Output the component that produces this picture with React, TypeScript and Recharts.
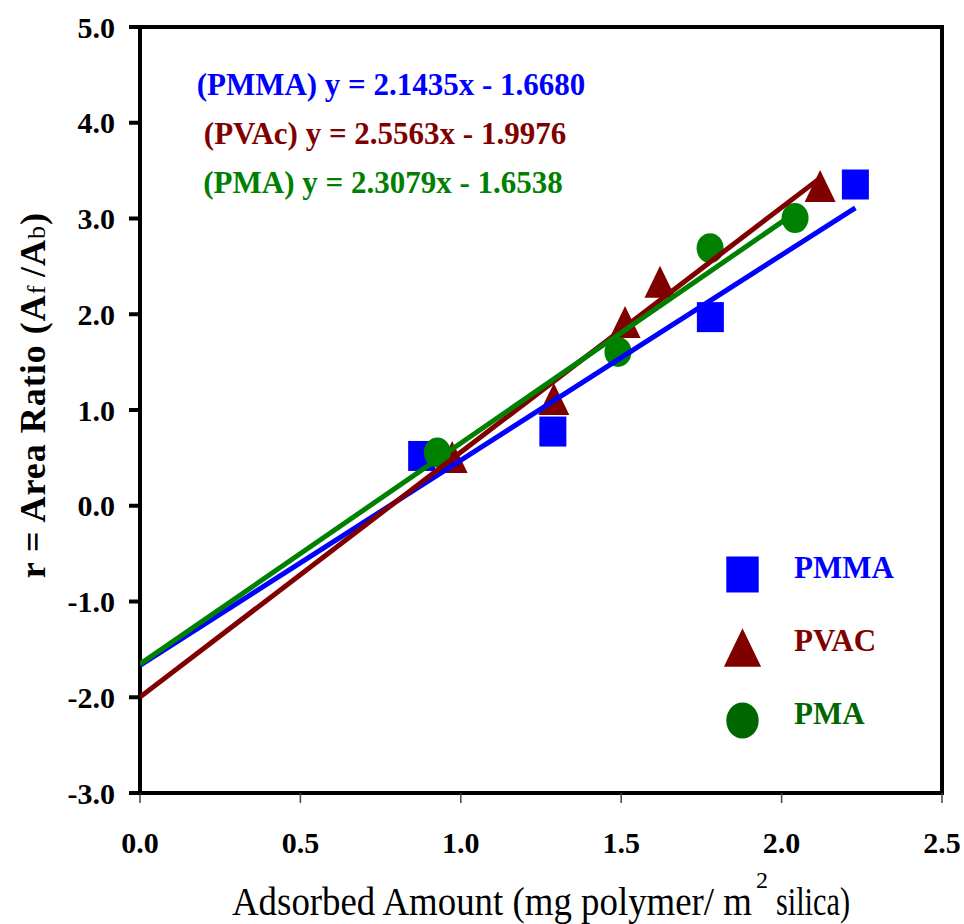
import {
  ComposedChart,
  XAxis,
  YAxis,
  Scatter,
  Line,
  Legend,
  ReferenceArea,
} from 'recharts'

const serif = '"Liberation Serif", "Times New Roman", serif'

const pmmaX = [0.878, 1.287, 1.778, 2.23]
const pmmaY = [0.52, 0.775, 1.97, 3.355]
const pvacX = [0.973, 1.29, 1.512, 1.621, 2.12]
const pvacY = [0.51, 1.115, 1.92, 2.34, 3.34]
const pmaX = [0.927, 1.49, 1.777, 2.042]
const pmaY = [0.556, 1.606, 2.69, 3.005]

// linear fits as printed on the chart
const seriesNames = ['PMMA', 'PVAc', 'PMA']
const legendNames = ['PMMA', 'PVAC', 'PMA']
const slopes = [2.1435, 2.5563, 2.3079]
const intercepts = [-1.668, -1.9976, -1.6538]
const equationText = [
  '(PMMA) y = 2.1435x - 1.6680',
  '(PVAc) y = 2.5563x - 1.9976',
  '(PMA) y = 2.3079x - 1.6538',
]

const xTicks = [0, 0.5, 1.0, 1.5, 2.0, 2.5]
const yTicks = [-3, -2, -1, 0, 1, 2, 3, 4, 5]

const colors = ['#0000ff', '#800000', '#008000']
const legendColors = ['#0000ff', '#800000', '#006600']
const shapes = ['square', 'triangle', 'circle']

const toPoints = (xs: number[], ys: number[]) => xs.map((x, i) => ({ x, y: ys[i] }))
const points = [toPoints(pmmaX, pmmaY), toPoints(pvacX, pvacY), toPoints(pmaX, pmaY)]

const fitLine = (i: number) => {
  const xEnd = Math.max(...points[i].map((p) => p.x))
  return [
    { x: 0, y: intercepts[i] },
    { x: xEnd, y: slopes[i] * xEnd + intercepts[i] },
  ]
}

function Marker({
  kind,
  cx,
  cy,
  fill,
  k = 1,
}: {
  kind: string
  cx: number
  cy: number
  fill: string
  k?: number
}) {
  const w = 13.5 * k
  const h = 15 * k
  if (kind === 'square') {
    return <rect x={cx - w} y={cy - h} width={2 * w} height={2 * h} fill={fill} />
  }
  if (kind === 'triangle') {
    const tw = 15.5 * k
    const th = 16 * k
    return (
      <polygon
        points={`${cx},${cy - th} ${cx + tw},${cy + th} ${cx - tw},${cy + th}`}
        fill={fill}
      />
    )
  }
  return <ellipse cx={cx} cy={cy} rx={w} ry={h} fill={fill} />
}

const shapeFor = (i: number) => (props: any) => (
  <Marker kind={shapes[i]} cx={props.cx} cy={props.cy} fill={colors[i]} />
)

function LegendBox() {
  return (
    <svg width={220} height={220}>
      {legendNames.map((name, i) => (
        <g key={name}>
          <Marker
            kind={shapes[i]}
            cx={42.5}
            cy={34.5 + i * 73}
            fill={legendColors[i]}
            k={1.2}
          />
          <text
            x={94}
            y={38 + i * 73}
            fill={legendColors[i]}
            fontFamily={serif}
            fontWeight="bold"
            fontSize={31}
          >
            {name}
          </text>
        </g>
      ))}
    </svg>
  )
}

const fmt = (v: number) => v.toFixed(1)

export default function App() {
  return (
    <div style={{ position: 'absolute', left: 0, top: 0, width: 964, height: 924, background: '#fff' }}>
      <ComposedChart
        width={964}
        height={924}
        margin={{ top: 27, right: 22, bottom: 0, left: 0 }}
      >
        <XAxis
          dataKey="x"
          type="number"
          domain={[0, 2.5]}
          ticks={xTicks}
          tickFormatter={fmt}
          height={131}
          axisLine={{ stroke: '#000', strokeWidth: 4 }}
          tickLine={{ stroke: '#444', strokeWidth: 1.5 }}
          tickSize={10}
          tickMargin={29}
          tick={{ fill: '#000', fontSize: 30, fontWeight: 'bold', fontFamily: serif }}
          allowDataOverflow
        />
        <YAxis
          type="number"
          domain={[-3, 5]}
          ticks={yTicks}
          tickFormatter={fmt}
          width={140}
          axisLine={{ stroke: '#000', strokeWidth: 4 }}
          tickLine={{ stroke: '#000', strokeWidth: 4 }}
          tickSize={11}
          tickMargin={14}
          tick={{ fill: '#000', fontSize: 30, fontWeight: 'bold', fontFamily: serif }}
          allowDataOverflow
        />
        <ReferenceArea
          x1={0}
          x2={2.5}
          y1={-3}
          y2={5}
          fill="none"
          stroke="#000"
          strokeWidth={4}
          fillOpacity={0}
        />
        {points.map((pts, i) => (
          <Scatter
            key={'s' + i}
            name={seriesNames[i]}
            data={pts}
            dataKey="y"
            fill={colors[i]}
            shape={shapeFor(i)}
            zIndex={500}
            isAnimationActive={false}
          />
        ))}
        {points.map((_, i) => (
          <Line
            key={'l' + i}
            name={seriesNames[i] + ' fit'}
            data={fitLine(i)}
            dataKey="y"
            type="linear"
            stroke={colors[i]}
            strokeWidth={5}
            dot={false}
            activeDot={false}
            legendType="none"
            zIndex={700}
            isAnimationActive={false}
          />
        ))}
        <Legend
          layout="horizontal"
          verticalAlign="middle"
          align="center"
          content={() => <LegendBox />}
          wrapperStyle={{ left: 700, top: 540, width: 220, height: 220 }}
        />
      </ComposedChart>
      <svg
        width={964}
        height={924}
        style={{ position: 'absolute', left: 0, top: 0, pointerEvents: 'none' }}
      >
        {equationText.map((t, i) => (
          <text
            key={t}
            x={[391, 385, 383][i]}
            y={95 + i * 49}
            textAnchor="middle"
            fill={colors[i]}
            fontFamily={serif}
            fontWeight="bold"
            fontSize={31}
          >
            {t}
          </text>
        ))}
        <text
          x={232}
          y={915}
          fontFamily={serif}
          fontSize={40}
          fill="#000"
          textLength={520}
          lengthAdjust="spacingAndGlyphs"
        >
          Adsorbed Amount (mg polymer/ m
        </text>
        <text x={756} y={888} fontFamily={serif} fontSize={24} fill="#000">
          2
        </text>
        <text
          x={776}
          y={915}
          fontFamily={serif}
          fontSize={40}
          fill="#000"
          textLength={74}
          lengthAdjust="spacingAndGlyphs"
        >
          silica)
        </text>
        <text
          x={45}
          y={212}
          transform="rotate(-90 45 212)"
          textAnchor="end"
          fontFamily={serif}
          fontWeight="bold"
          fontSize={36}
          fill="#000"
          letterSpacing={1}
        >
          r = Area Ratio (A<tspan fontSize={26} fontWeight="normal">f </tspan>
          <tspan fontSize={36}>/A</tspan>
          <tspan fontSize={26} fontWeight="normal">b</tspan>
          <tspan fontSize={36}>)</tspan>
        </text>
      </svg>
    </div>
  )
}
